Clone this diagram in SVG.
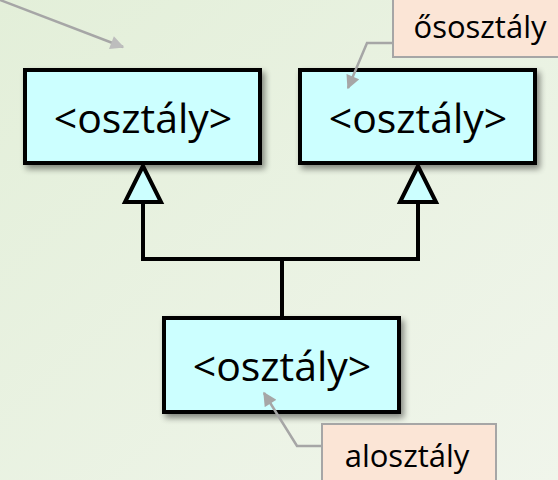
<svg xmlns="http://www.w3.org/2000/svg" width="558" height="480" viewBox="0 0 558 480">
<defs>
<linearGradient id="bg" x1="0" y1="0" x2="1" y2="1">
<stop offset="0" stop-color="#E3EFD9"/>
<stop offset="1" stop-color="#F0F5EB"/>
</linearGradient>
<filter id="sh" x="-10%" y="-10%" width="130%" height="140%">
<feGaussianBlur in="SourceAlpha" stdDeviation="3"/>
<feOffset dx="3" dy="4" result="b"/>
<feComponentTransfer><feFuncA type="linear" slope="0.45"/></feComponentTransfer>
<feMerge><feMergeNode/><feMergeNode in="SourceGraphic"/></feMerge>
</filter>
<marker id="ga" viewBox="0 0 10 10" refX="9" refY="5" markerWidth="6" markerHeight="5.5" orient="auto" markerUnits="strokeWidth">
<path d="M0,0 L10,5 L0,10 z" fill="#BDBDBD"/>
</marker>
<marker id="ga2" viewBox="0 0 10 10" refX="9" refY="5" markerWidth="6" markerHeight="5.5" orient="auto" markerUnits="strokeWidth">
<path d="M0,0 L10,5 L0,10 z" fill="#A6A6A6"/>
</marker>
</defs>
<style>
.cls{fill:#CCFFFF;stroke:#000;stroke-width:4}
.ct{font-family:"Open Sans","Noto Sans",sans-serif;font-size:41px;fill:#000;text-anchor:middle}
.note{fill:#FBE5D6;stroke:#A6A6A6;stroke-width:2}
.nt{font-family:"Open Sans","Noto Sans",sans-serif;font-size:31px;fill:#000;text-anchor:middle}
.conn{fill:none;stroke:#000;stroke-width:4}
.tri{fill:#CCFFFF;stroke:#000;stroke-width:4;stroke-linejoin:miter}
.call{fill:none;stroke:#A6A6A6;stroke-width:2.5}
</style>
<rect width="558" height="480" fill="url(#bg)"/>
<g id="connectors">
<path class="conn" d="M143,202 V259 H418 V202 M282,259 V317"/>
<polygon class="tri" points="143,166 125,202 161,202"/>
<polygon class="tri" points="418,166 400,202 436,202"/>
</g>
<g id="class-left">
<rect class="cls" x="25" y="70" width="235" height="93" filter="url(#sh)"/>
<text class="ct" x="143" y="133">&lt;osztály&gt;</text>
</g>
<g id="class-right">
<rect class="cls" x="300" y="70" width="235" height="93" filter="url(#sh)"/>
<text class="ct" x="418" y="133">&lt;osztály&gt;</text>
</g>
<g id="class-bottom">
<rect class="cls" x="164" y="318" width="235" height="94" filter="url(#sh)"/>
<text class="ct" x="282" y="381">&lt;osztály&gt;</text>
</g>
<g id="callouts">
<path class="call" d="M0,0 L123,47" stroke="#BDBDBD" marker-end="url(#ga)"/>
<path class="call" d="M392,43 H367 L348,88" marker-end="url(#ga2)"/>
<path class="call" d="M321,446 H297 L264,393" marker-end="url(#ga2)"/>
</g>
<g id="note-ososztaly">
<rect class="note" x="393" y="-5" width="175" height="62"/>
<text class="nt" x="480" y="38">ősosztály</text>
</g>
<g id="note-alosztaly">
<rect class="note" x="322" y="424" width="174" height="66"/>
<text class="nt" x="407" y="467">alosztály</text>
</g>
</svg>
